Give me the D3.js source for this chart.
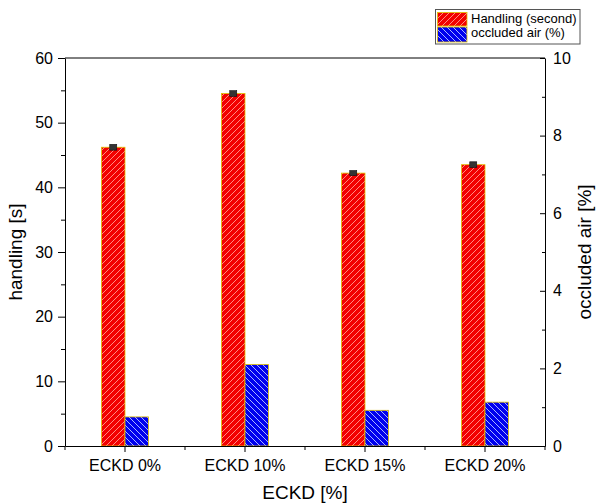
<!DOCTYPE html>
<html><head><meta charset="utf-8">
<script src="https://cdn.jsdelivr.net/npm/d3@7"></script>
<style>
html,body{margin:0;padding:0;background:#fff;}
text{font-family:"Liberation Sans",Arial,sans-serif;fill:#000;}
</style></head>
<body>
<svg id="c" width="596" height="504"></svg>
<script>
const categories = ["ECKD 0%", "ECKD 10%", "ECKD 15%", "ECKD 20%"];
const handling = [46.2, 54.5, 42.2, 43.5];
const handlingErr = [0.45, 0.45, 0.4, 0.45];
const occludedAir = [0.75, 2.1, 0.92, 1.13];
const leftTicks = [0, 10, 20, 30, 40, 50, 60];
const rightTicks = [0, 2, 4, 6, 8, 10];
const seriesNames = ["Handling (second)", "occluded air (%)"];

const svg = d3.select("#c");
const L = 65, R = 545, T = 58, B = 446;

const defs = svg.append("defs");
function hatch(id, bg, line, dir) {
  const p = defs.append("pattern").attr("id", id).attr("patternUnits", "userSpaceOnUse")
    .attr("width", 6).attr("height", 6);
  p.append("rect").attr("width", 6).attr("height", 6).attr("fill", bg);
  if (dir > 0) {
    p.append("path").attr("d", "M-1,1 l2,-2 M0,6 l6,-6 M5,7 l2,-2").attr("stroke", line).attr("stroke-width", 1);
  } else {
    p.append("path").attr("d", "M-1,5 l2,2 M0,0 l6,6 M5,-1 l2,2").attr("stroke", line).attr("stroke-width", 1);
  }
}
hatch("hr", "#f20000", "#ff8a80", 1);
hatch("hb", "#0000ee", "#a8b4ff", -1);

const x = d3.scaleBand().domain(categories).range([L, R]);
const yL = d3.scaleLinear().domain([0, 60]).range([B, T]);
const yR = d3.scaleLinear().domain([0, 10]).range([B, T]);
const bw = x.bandwidth() * 0.196;

// frame top
svg.append("line").attr("x1", L).attr("x2", R).attr("y1", T).attr("y2", T).attr("stroke", "#000");

// bars
const g = svg.append("g");
categories.forEach((c, i) => {
  const cx = x(c) + x.bandwidth() / 2;
  g.append("rect").attr("x", cx - bw).attr("y", yL(handling[i])).attr("width", bw)
    .attr("height", B - yL(handling[i])).attr("fill", "url(#hr)").attr("stroke", "#e0c000").attr("stroke-width", 0.8);
  g.append("rect").attr("x", cx).attr("y", yR(occludedAir[i])).attr("width", bw)
    .attr("height", B - yR(occludedAir[i])).attr("fill", "url(#hb)").attr("stroke", "#e0c000").attr("stroke-width", 0.8);
  const ex = cx - bw / 2;
  g.append("rect").attr("x", ex - 3.5).attr("y", yL(handling[i] + handlingErr[i]))
    .attr("width", 7).attr("height", yL(handling[i] - handlingErr[i]) - yL(handling[i] + handlingErr[i]))
    .attr("fill", "#333").attr("stroke", "#111").attr("stroke-width", 0.6);
});

// bottom axis
const ax = svg.append("g").attr("transform", `translate(0,${B})`)
  .call(d3.axisBottom(x).tickSize(6).tickSizeOuter(0).tickPadding(8));
ax.selectAll("text").attr("font-size", 16);
categories.concat(["end"]).forEach((c, i) => {
  const xx = L + i * x.step();
  svg.append("line").attr("x1", xx).attr("x2", xx).attr("y1", B).attr("y2", B + 4).attr("stroke", "#000");
});

// left axis
const al = svg.append("g").attr("transform", `translate(${L},0)`)
  .call(d3.axisLeft(yL).tickValues(leftTicks).tickSize(7).tickSizeOuter(0).tickPadding(5));
al.selectAll("text").attr("font-size", 16);
svg.append("g").attr("transform", `translate(${L},0)`)
  .call(d3.axisLeft(yL).tickValues(d3.range(5, 60, 10)).tickSize(4).tickFormat(""))
  .select(".domain").remove();

// right axis (ticks inward)
const ar = svg.append("g").attr("transform", `translate(${R},0)`)
  .call(d3.axisRight(yR).tickValues(rightTicks).tickSize(0).tickSizeOuter(0).tickPadding(8));
ar.selectAll("text").attr("font-size", 16);
ar.selectAll(".tick line").attr("x2", -5);
const arm = svg.append("g").attr("transform", `translate(${R},0)`)
  .call(d3.axisRight(yR).tickValues(d3.range(1, 10, 2)).tickSize(0).tickFormat(""));
arm.select(".domain").remove();
arm.selectAll(".tick line").attr("x2", -3);

svg.selectAll(".domain, .tick line").attr("stroke", "#000");

// axis titles
svg.append("text").attr("x", 305).attr("y", 499).attr("text-anchor", "middle").attr("font-size", 19).text("ECKD [%]");
svg.append("text").attr("transform", `translate(22,${(T + B) / 2}) rotate(-90)`).attr("text-anchor", "middle").attr("font-size", 19).text("handling [s]");
svg.append("text").attr("transform", `translate(591,${(T + B) / 2}) rotate(-90)`).attr("text-anchor", "middle").attr("font-size", 19).text("occluded air [%]");

// legend
const lg = svg.append("g");
lg.append("rect").attr("x", 435.5).attr("y", 9.5).attr("width", 144.5).attr("height", 34.5).attr("fill", "#fff").attr("stroke", "#555");
[["url(#hr)", 0], ["url(#hb)", 1]].forEach(([f, i]) => {
  lg.append("rect").attr("x", 437.5).attr("y", 12.5 + i * 14.5).attr("width", 29.5).attr("height", 13.5 + i * 1.5)
    .attr("fill", f).attr("stroke", "#e0c000").attr("stroke-width", 0.8);
  lg.append("text").attr("x", 471).attr("y", 22.5 + i * 14).attr("font-size", 13).text(seriesNames[i]);
});
</script>
</body></html>
